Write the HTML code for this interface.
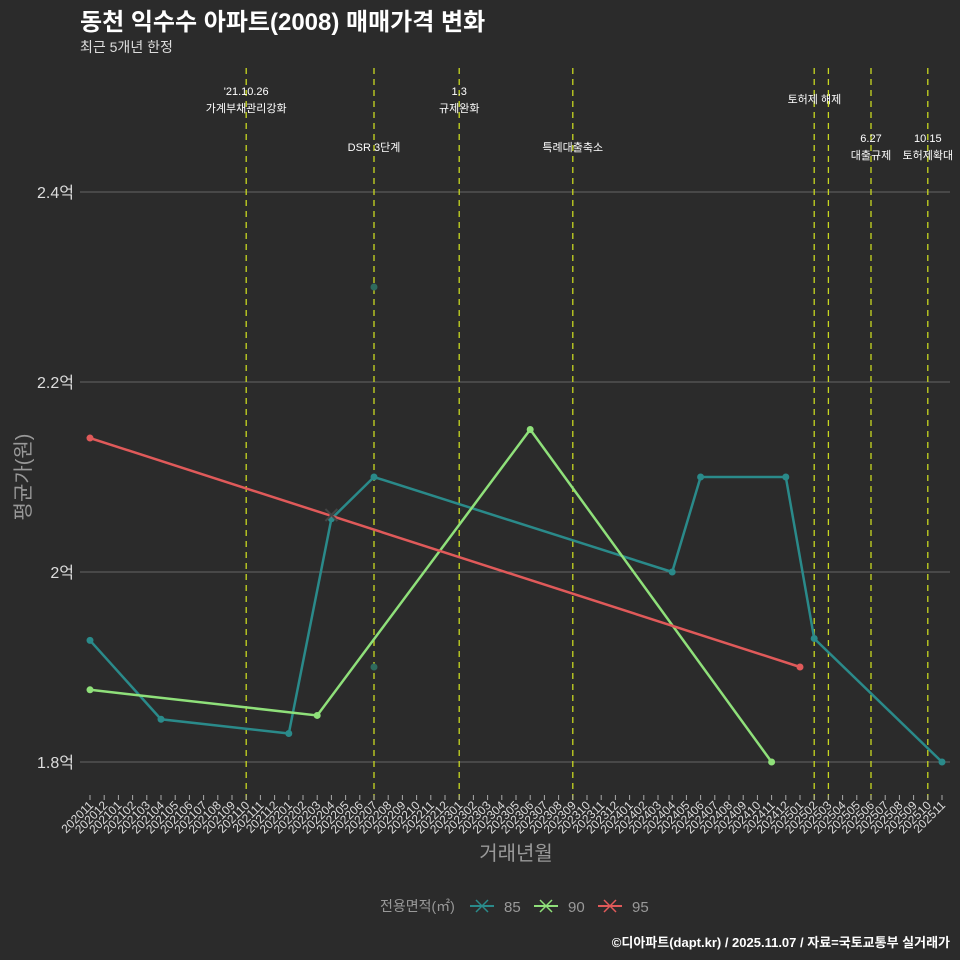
<!DOCTYPE html>
<html><head><meta charset="utf-8"><style>
html,body{margin:0;background:#2b2b2b;overflow:hidden;width:960px;height:960px;}
svg{display:block;}
svg text{font-family:"Liberation Sans","Noto Sans CJK KR",sans-serif;}
</style></head><body>
<svg id="c" width="960" height="960" xmlns="http://www.w3.org/2000/svg">
<rect width="960" height="960" fill="#2b2b2b"/>
<text x="80" y="30" fill="#fff" font-size="24" font-weight="bold">동천 익수수 아파트(2008) 매매가격 변화</text>
<text x="80" y="52" fill="#ddd" font-size="14">최근 5개년 한정</text>
<g id="grid"></g><g id="events"></g><g id="series"></g><g id="xaxis"></g>
<text x="30" y="477" fill="#999" font-size="20" text-anchor="middle" transform="rotate(-90 30 477)">평균가(원)</text>
<text x="516" y="860" fill="#999" font-size="20" text-anchor="middle">거래년월</text>
<g font-size="15">
<text x="380" y="911" fill="#999" font-size="14">전용면적(㎡)</text>
<g><line x1="470" y1="906" x2="494" y2="906" stroke="#2a8a8a" stroke-width="2"/><path d="M476 900L488 912M488 900L476 912" stroke="#2a8a8a" stroke-width="1.5"/><text x="504" y="912" fill="#999">85</text></g>
<g><line x1="534" y1="906" x2="558" y2="906" stroke="#8fe07a" stroke-width="2"/><path d="M540 900L552 912M552 900L540 912" stroke="#8fe07a" stroke-width="1.5"/><text x="568" y="912" fill="#999">90</text></g>
<g><line x1="598" y1="906" x2="622" y2="906" stroke="#e05a5a" stroke-width="2"/><path d="M604 900L616 912M616 900L604 912" stroke="#e05a5a" stroke-width="1.5"/><text x="632" y="912" fill="#999">95</text></g>
</g>
<text x="950" y="947" fill="#fff" font-size="13" font-weight="bold" text-anchor="end">©디아파트(dapt.kr) / 2025.11.07 / 자료=국토교통부 실거래가</text>
</svg>
<script>
const months=[];for(let y=2020,m=11;y<2025||(y===2025&&m<=11);){months.push(y+String(m).padStart(2,'0'));m++;if(m>12){m=1;y++;}}
const yTicks=[1.8,2.0,2.2,2.4];
const yTickLabels=['1.8억','2억','2.2억','2.4억'];
const s85Months=['202011','202104','202201','202204','202207','202404','202406','202412','202502','202511'];
const s85Values=[1.928,1.845,1.830,2.056,2.100,2.000,2.100,2.100,1.930,1.800];
const s90Months=['202011','202203','202306','202411'];
const s90Values=[1.876,1.849,2.150,1.800];
const s95Months=['202011','202501'];
const s95Values=[2.141,1.900];
const dotMonths=['202207','202207'];
const dotValues=[2.300,1.900];
const crossMonths=['202204'];
const crossValues=[2.060];
const eventMonths=['202110','202207','202301','202309','202502','202503','202506','202510'];
const eventLabels=[["'21.10.26","가계부채관리강화"],["","DSR 3단계"],["1.3","규제완화"],["","특례대출축소"],["","토허제 해제"],[],["6.27","대출규제"],["10.15","토허제확대"]];
const NS='http://www.w3.org/2000/svg';
const X=m=>90+months.indexOf(m)*(852/(months.length-1));
const Y=v=>762-(v-1.8)*950;
function el(t,a,p){const e=document.createElementNS(NS,t);for(const k in a)e.setAttribute(k,a[k]);document.getElementById(p).appendChild(e);return e;}
yTicks.forEach((v,i)=>{
 const l=el('line',{x1:80,x2:950,y1:Y(v),y2:Y(v),stroke:'#666','stroke-width':1},'grid');
 
 
 const t=el('text',{x:74,y:Y(v)+6,fill:'#ddd','font-size':16,'text-anchor':'end'},'grid');t.textContent=yTickLabels[i];
 
 
});
eventMonths.forEach((m,i)=>{
 const x=X(m);
 const l=el('line',{x1:x,x2:x,y1:68,y2:800,stroke:'#c8d820','stroke-width':1.3,'stroke-dasharray':'6,5'},'events');
 
 
 const lab=eventLabels[i];if(!lab.length)return;
 let y0=(i===1||i===3)?151:(i===6||i===7)?142:95;
 if(i===4){y0=103;}
 lab.forEach((s,j)=>{if(!s)return;
  const t=el('text',{x:x,y:(lab[0]===''?y0:y0+j*17),fill:'#fff','font-size':11,'text-anchor':'middle'},'events');t.textContent=s;
  if(i===4)t.setAttribute('x',X('202503')-14);
  
  });
});
months.forEach(m=>{
 const x=X(m);
 const tk=el('line',{x1:x,x2:x,y1:795,y2:800,stroke:'#aaa'},'xaxis');
 
 
 const t=el('text',{x:x+4,y:806,fill:'#ddd','font-size':12,'text-anchor':'end',transform:`rotate(-45 ${x+4} 806)`},'xaxis');t.textContent=m;
 
 
});
function series(ms,vs,col,name){
 const p=el('polyline',{points:ms.map((m,i)=>X(m)+','+Y(vs[i])).join(' '),fill:'none',stroke:col,'stroke-width':2.5},'series');
 
 
 ms.forEach((m,i)=>{const c=el('circle',{cx:X(m),cy:Y(vs[i]),r:3.5,fill:col},'series');
  
  });
}
dotMonths.forEach((m,i)=>{const c=el('circle',{cx:X(m),cy:Y(dotValues[i]),r:3.5,fill:'#2f6a5e'},'series');
 
 });
series(s85Months,s85Values,'#2a8a8a','85');
series(s90Months,s90Values,'#8fe07a','90');
series(s95Months,s95Values,'#e05a5a','95');
crossMonths.forEach((m,i)=>{const x=X(m),y=Y(crossValues[i]);
 const c=el('path',{d:`M${x-6} ${y-6}L${x+6} ${y+6}M${x+6} ${y-6}L${x-6} ${y+6}`,stroke:'#444','stroke-width':2},'series');
 
 });
</script>
</body></html>
